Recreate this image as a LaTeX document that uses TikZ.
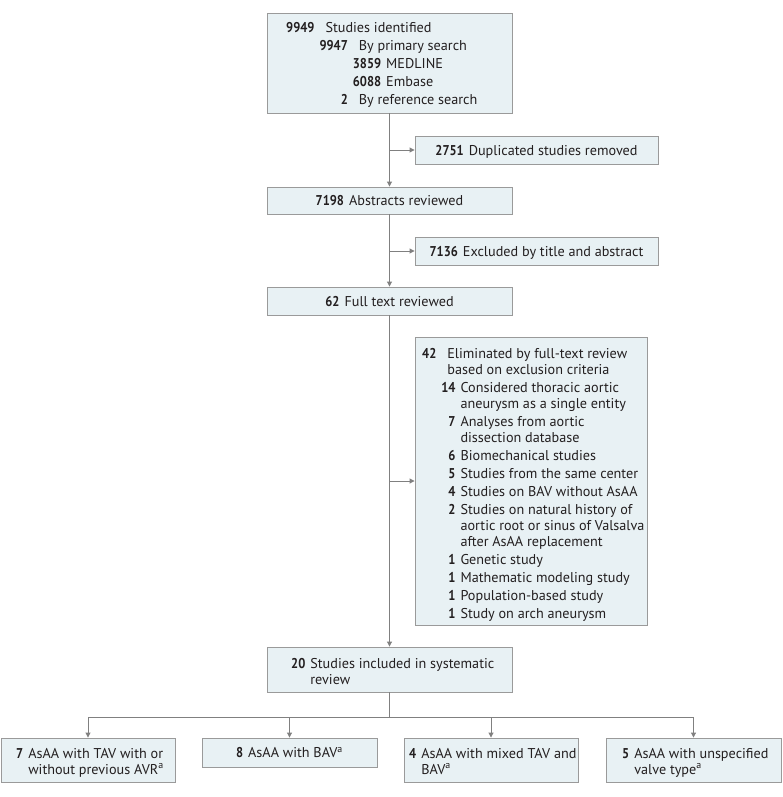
\documentclass[tikz,border=0pt]{standalone}
\usepackage{fontspec}
\setmainfont[BoldFeatures={FakeStretch=0.88}]{PT Sans}
\usetikzlibrary{arrows.meta}
\definecolor{boxfill}{HTML}{E8F1F4}
\definecolor{boxline}{HTML}{9A9A9A}
\definecolor{conn}{HTML}{808080}
\definecolor{ink}{HTML}{231F20}
\newcommand\fsA{\fontsize{14.2}{17.8}\selectfont}
\newcommand\fsB{\fontsize{14.2}{16}\selectfont}
\newcommand\nb[1]{\textbf{#1}}
\newcommand\gp{\hspace{5pt}}
\begin{document}
\begin{tikzpicture}[x=1pt,y=-1pt,
  box/.style={draw=boxline, fill=boxfill, line width=0.9pt, inner sep=0pt,
    text=ink, font=\fsA, text height=10pt, text depth=0pt},
  txt/.style={inner sep=0pt, anchor=base west, text=ink, font=\fsB, align=left},
  line/.style={draw=conn, line width=0.9pt},
  arr/.style={draw=conn, line width=0.9pt, -{Triangle[length=5pt,width=5pt]}}]
\useasboundingbox (0,0) rectangle (783,797);

% boxes
\node[box, minimum width=245pt, minimum height=100pt] (ident) at (389.5,63) {};
\node[box, minimum width=243pt, minimum height=28pt] (dup) at (536.5,150) {\nb{2751}\gp Duplicated studies removed};
\node[box, minimum width=245pt, minimum height=27pt] (abs) at (389.5,200.5) {\nb{7198}\gp Abstracts reviewed};
\node[box, minimum width=243pt, minimum height=28pt] (excl) at (536.5,251) {\nb{7136}\gp Excluded by title and abstract};
\node[box, minimum width=245pt, minimum height=28pt] (full) at (389.5,301) {\nb{62}\gp Full text reviewed};
\node[box, minimum width=232pt, minimum height=288pt] (elim) at (531,481) {};
\node[box, minimum width=245pt, minimum height=45pt] (incl) at (389.5,669.5) {};
\node[box, minimum width=174pt, minimum height=44pt] (tav) at (88,760) {};
\node[box, minimum width=175pt, minimum height=29pt] (bav) at (289.5,752.5) {\nb{8}\gp AsAA with BAV\textsuperscript{a}};
\node[box, minimum width=174pt, minimum height=44pt] (mixed) at (491,760) {};
\node[box, minimum width=175pt, minimum height=44pt] (unspec) at (693.5,760) {};

% texts
\node[txt, font=\fsA] (identtxt) at (286,33) {\begin{tabular}[t]{@{}r@{\gp}r@{\gp}r@{\gp}l@{}}
\nb{9949} & \multicolumn{3}{l@{}}{Studies identified}\\
 & \nb{9947} & \multicolumn{2}{l@{}}{By primary search}\\
 & & \nb{3859} & MEDLINE\\
 & & \nb{6088} & Embase\\
 & \nb{2} & \multicolumn{2}{l@{}}{By reference search}
\end{tabular}};

\node[txt] (elimtxt) at (422,358) {\begin{tabular}[t]{@{}r@{\gp}r@{\gp}l@{}}
\nb{42} & \multicolumn{2}{l@{}}{Eliminated by full-text review}\\
 & \multicolumn{2}{l@{}}{based on exclusion criteria}\\[2pt]
 & \nb{14} & Considered thoracic aortic\\
 & & aneurysm as a single entity\\[2pt]
 & \nb{7} & Analyses from aortic\\
 & & dissection database\\[2pt]
 & \nb{6} & Biomechanical studies\\[2pt]
 & \nb{5} & Studies from the same center\\[2pt]
 & \nb{4} & Studies on BAV without AsAA\\[2pt]
 & \nb{2} & Studies on natural history of\\
 & & aortic root or sinus of Valsalva\\
 & & after AsAA replacement\\[2pt]
 & \nb{1} & Genetic study\\[2pt]
 & \nb{1} & Mathematic modeling study\\[2pt]
 & \nb{1} & Population-based study\\[2pt]
 & \nb{1} & Study on arch aneurysm
\end{tabular}};

\node[txt] (incltxt) at (291,668) {\begin{tabular}[t]{@{}r@{\gp}l@{}}
\nb{20} & Studies included in systematic\\
 & review
\end{tabular}};

\node[txt] (tavtxt) at (16,758) {\begin{tabular}[t]{@{}r@{\gp}l@{}}
\nb{7} & AsAA with TAV with or\\
 & without previous AVR\textsuperscript{a}
\end{tabular}};

\node[txt] (mixedtxt) at (409,758) {\begin{tabular}[t]{@{}r@{\gp}l@{}}
\nb{4} & AsAA with mixed TAV and\\
 & BAV\textsuperscript{a}
\end{tabular}};

\node[txt] (unspectxt) at (622,758) {\begin{tabular}[t]{@{}r@{\gp}l@{}}
\nb{5} & AsAA with unspecified\\
 & valve type\textsuperscript{a}
\end{tabular}};

% connectors
\coordinate (j1) at (ident.south |- dup.west);
\coordinate (j2) at (abs.south |- excl.west);
\coordinate (j3) at (full.south |- elim.west);
\coordinate (j4) at (389.5,717);

\draw[arr] (ident.south) -- (abs.north);
\draw[arr] (j1) -- (dup.west);
\draw[arr] (abs.south) -- (full.north);
\draw[arr] (j2) -- (excl.west);
\draw[arr] (full.south) -- (incl.north);
\draw[arr] (j3) -- (elim.west);
\draw[line] (incl.south) -- (j4);
\draw[line] (j4 -| tav.north) -- (j4 -| unspec.north);
\draw[arr] (j4 -| tav.north) -- (tav.north);
\draw[arr] (j4 -| bav.north) -- (bav.north);
\draw[arr] (j4 -| mixed.north) -- (mixed.north);
\draw[arr] (j4 -| unspec.north) -- (unspec.north);
\end{tikzpicture}
\end{document}
